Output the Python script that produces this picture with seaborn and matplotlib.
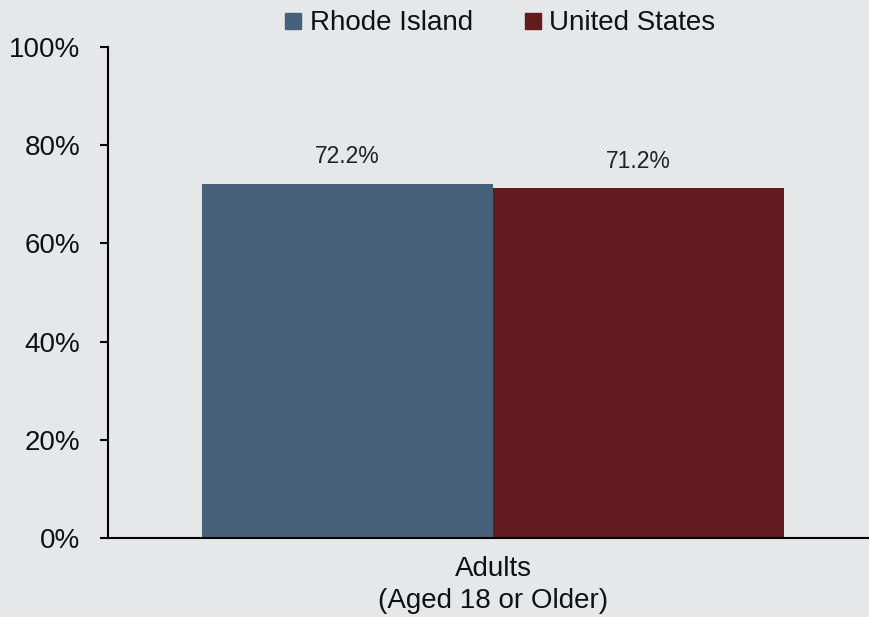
#!/usr/bin/env python3
import matplotlib
matplotlib.use('Agg')
import matplotlib.pyplot as plt
from matplotlib.lines import Line2D
import seaborn as sns
import pandas

categories = ['Adults\n(Aged 18 or Older)']
series     = ['Rhode Island', 'United States']
values     = [72.2, 71.2]
colors     = ['#47617A', '#621B1E']
yticks     = [0, 20, 40, 60, 80, 100]

BG = '#E6E7E9'

sns.set_style('white')
plt.rcParams['font.family'] = ['Liberation Sans', 'DejaVu Sans']

def main():
    data = pandas.DataFrame({
        'group': categories * len(series),
        'series': series,
        'value': values,
    })

    fig = plt.figure(figsize=(8.69, 6.17), dpi=100, facecolor=BG)
    ax = fig.add_axes([0.1243, 0.128, 0.886, 0.7958])
    ax.set_facecolor(BG)

    sns.barplot(data=data, x='group', y='value', hue='series', palette=colors,
                width=0.755, saturation=1, linewidth=0, ax=ax, legend=False)

    for cont in ax.containers:
        ax.bar_label(cont, labels=['%.1f%%' % v for v in cont.datavalues],
                     padding=11, fontsize=16.5, color='#222222')

    ax.set_xlim(-0.5, 0.5)
    ax.set_ylim(0, 100)
    ax.set_yticks(yticks)
    ax.set_yticklabels(['%d%%' % t for t in yticks])
    ax.set_xlabel('')
    ax.set_ylabel('')

    for s in ['top', 'right']:
        ax.spines[s].set_visible(False)
    for s in ['left', 'bottom']:
        ax.spines[s].set_color('black')
        ax.spines[s].set_linewidth(1.5)

    ax.tick_params(axis='y', length=6, width=1.5, color='black', pad=14,
                   labelsize=20, labelcolor='#111111', left=True)
    ax.tick_params(axis='x', length=0, pad=13, labelsize=20, labelcolor='#111111')
    for lab in ax.get_xticklabels():
        lab.set_linespacing(1.3)

    handles = [Line2D([], [], marker='s', linestyle='', markersize=11.5,
                      markerfacecolor=c, markeredgecolor=c) for c in colors]
    fig.legend(handles, series, loc='center', bbox_to_anchor=(0.574, 0.962),
               ncol=2, frameon=False, fontsize=20, handletextpad=0.2,
               columnspacing=1.75, handlelength=0.8, labelcolor='#111111')

    fig.savefig('out.png', dpi=100, facecolor=BG)

if __name__ == '__main__':
    main()
